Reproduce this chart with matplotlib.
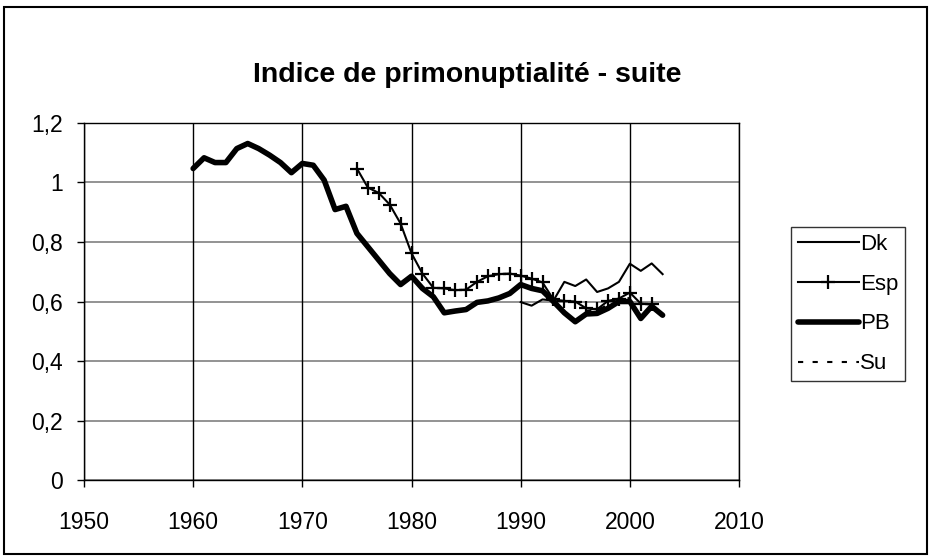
import numpy as np
import matplotlib.pyplot as plt
from matplotlib.patches import Rectangle

plt.rcParams['font.family'] = ['Liberation Sans', 'DejaVu Sans']

# PB (Pays-Bas) 1960-2003
years_pb = list(range(1960, 2004))
pb = [1.047, 1.083, 1.067, 1.067, 1.114, 1.131, 1.114, 1.092, 1.067, 1.033,
      1.064, 1.058, 1.008, 0.909, 0.920, 0.829, 0.784, 0.739, 0.694, 0.657,
      0.685, 0.644, 0.616, 0.562, 0.568, 0.573, 0.597, 0.602, 0.612, 0.627,
      0.657, 0.644, 0.636, 0.600, 0.562, 0.532, 0.558, 0.560, 0.577, 0.600,
      0.600, 0.543, 0.584, 0.554]

# Esp 1975-2002
years_esp = list(range(1975, 2003))
esp = [1.047, 0.983, 0.965, 0.926, 0.862, 0.762, 0.694, 0.646, 0.644, 0.638,
       0.640, 0.666, 0.685, 0.692, 0.694, 0.687, 0.677, 0.664, 0.607, 0.602,
       0.600, 0.577, 0.574, 0.602, 0.610, 0.630, 0.593, 0.590]

# Dk 1990-2003
years_dk = list(range(1990, 2004))
dk = [0.598, 0.586, 0.607, 0.603, 0.666, 0.652, 0.674, 0.632, 0.644, 0.666,
      0.727, 0.703, 0.728, 0.692]

# Su 1996-2000
years_su = [1996, 1997, 1998, 1999, 2000]
su = [0.568, 0.572, 0.588, 0.606, 0.612]

xticks = [1950, 1960, 1970, 1980, 1990, 2000, 2010]
yticks = [0, 0.2, 0.4, 0.6, 0.8, 1.0, 1.2]
ylabels = ["0", "0,2", "0,4", "0,6", "0,8", "1", "1,2"]

fig = plt.figure(figsize=(9.31, 5.57), dpi=100)
ax = fig.add_axes([0.0902, 0.1382, 0.7036, 0.641])

ax.plot(years_dk, dk, color='black', lw=1.5, label='Dk')
ax.plot(years_esp, esp, color='black', lw=1.5, marker='+', ms=10, mew=1.6, label='Esp')
ax.plot(years_pb, pb, color='black', lw=4, solid_capstyle='round', label='PB')
ax.plot(years_su, su, color='black', lw=1.5, ls=(0, (2.5, 4.5)), label='Su')

ax.set_xlim(1950, 2010)
ax.set_ylim(0, 1.2)
ax.set_xticks(xticks)
ax.set_yticks(yticks)
ax.set_yticklabels(ylabels)
ax.tick_params(direction='out', length=5, width=1, labelsize=16.5)
ax.tick_params(axis='y', pad=10)
ax.tick_params(axis='x', pad=17)
for y in yticks:
    ax.axhline(y, color='#808080', lw=1.2, zorder=0)
for x in xticks:
    ax.axvline(x, color='black', lw=1, zorder=0)
for s in ax.spines.values():
    s.set_color('black')
    s.set_linewidth(1)

fig.suptitle("Indice de primonuptialité - suite", x=0.502, y=0.888,
             fontsize=20.5, fontweight='bold')

leg = fig.legend(loc='upper left', bbox_to_anchor=(0.8496, 0.5925), fontsize=16,
                 handlelength=2.75, handletextpad=0.05, labelspacing=0.85,
                 borderpad=0.3, borderaxespad=0, fancybox=False, frameon=True)
leg.get_frame().set_edgecolor('black')
leg.get_frame().set_linewidth(1)

fig.patches.append(Rectangle((0.004, 0.006), 0.992, 0.982, transform=fig.transFigure,
                             fill=False, edgecolor='black', lw=1.5))

fig.savefig('out.png', dpi=100)
